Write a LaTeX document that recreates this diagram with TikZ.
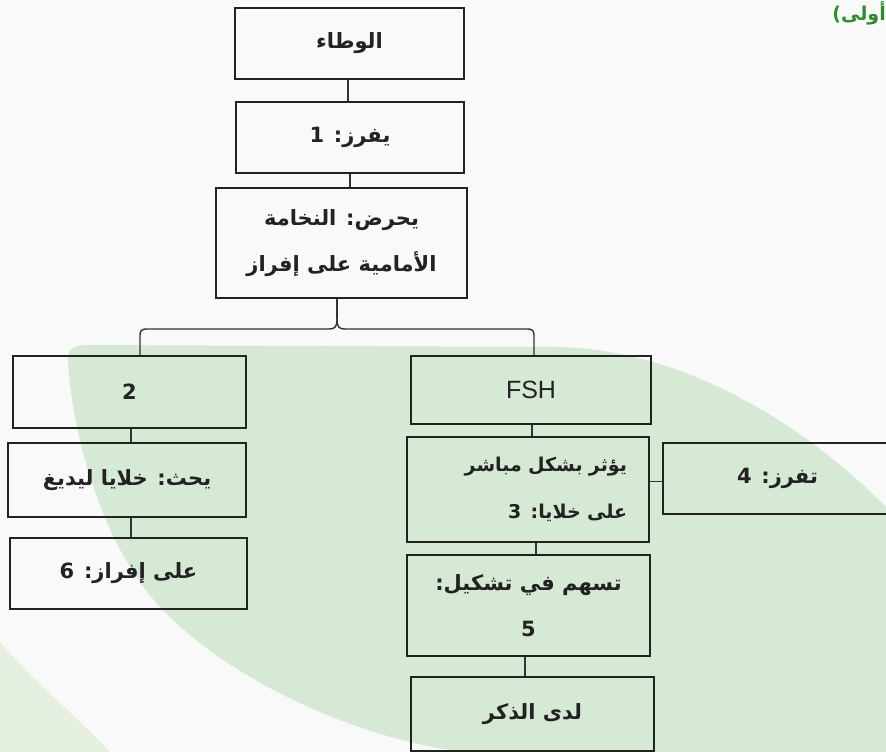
\documentclass[tikz,border=0pt]{standalone}
\usepackage{fontspec}
\TeXXeTstate=1
\newfontfamily\arabicfont[Script=Arabic]{DejaVu Sans}
\newfontfamily\latinfont{Liberation Sans}
\usetikzlibrary{calc}
\definecolor{bgc}{HTML}{F9F9F9}
\definecolor{leaf}{HTML}{D6E9D4}
\definecolor{leaflight}{HTML}{E4EFE0}
\definecolor{boxline}{HTML}{222222}
\definecolor{conn}{HTML}{333333}
\definecolor{titlegreen}{HTML}{2E8B2E}
\begin{document}
\begin{tikzpicture}[x=1pt,y=-1pt,
  box/.style={draw=boxline, line width=2pt, inner sep=0pt, align=center,
    font=\arabicfont\bfseries\fontsize{21}{46}\selectfont, text=boxline},
  link/.style={draw=conn, line width=1.4pt},
  thinlink/.style={draw=conn, line width=0.8pt}]
\fill[bgc] (0,0) rectangle (886,752);
\useasboundingbox (0,0) rectangle (886,752);
% background leaves
\fill[leaf] (68,362) .. controls (67,350) and (72,345) .. (88,345) -- (560,347)
  .. controls (680,350) and (800,420) .. (886,507) -- (886,752) -- (470,752)
  .. controls (380,745) and (240,690) .. (163,610)
  .. controls (100,545) and (72,430) .. (68,362) -- cycle;
\fill[leaflight] (0,642) .. controls (35,683) and (75,715) .. (110,752) -- (0,752) -- cycle;
% title fragment
\node[anchor=north east, inner sep=0pt, text=titlegreen,
  font=\arabicfont\bfseries\fontsize{19}{21}\selectfont] (ttl) at (886,1) {\beginR أولى)\endR};
% boxes
\node[box, minimum width=229pt, minimum height=71pt] (A) at (349.5,43.5) {\beginR الوطاء\endR};
\node[box, minimum width=228pt, minimum height=71pt] (B) at (350,137.5) {\beginR يفرز: 1\endR};
\node[box, minimum width=251pt, minimum height=110pt] (C) at (341.5,243)
  {\beginR يحرض: النخامة\endR\\\beginR الأمامية على إفراز\endR};
\node[box, minimum width=233pt, minimum height=72pt] (D) at (129.5,392) {2};
\node[box, minimum width=238pt, minimum height=74pt] (E) at (127,480) {\beginR يحث: خلايا ليديغ\endR};
\node[box, minimum width=237pt, minimum height=71pt] (F) at (128.5,573.5) {\beginR على إفراز: 6\endR};
\node[box, minimum width=240pt, minimum height=68pt, font=\latinfont\fontsize{25}{30}\selectfont] (G) at (531,390) {FSH};
\node[box, minimum width=242pt, minimum height=105pt, text width=198pt, align=right,
  font=\arabicfont\bfseries\fontsize{19}{47}\selectfont] (H) at (528,489.5)
  {\beginR يؤثر بشكل مباشر\endR\\\beginR على خلايا: 3\endR};
\node[box, minimum width=229pt, minimum height=71pt] (I) at (777.5,478.5) {\beginR تفرز: 4\endR};
\node[box, minimum width=243pt, minimum height=101pt] (J) at (528.5,605.5)
  {\beginR تسهم في تشكيل:\endR\\5};
\node[box, minimum width=243pt, minimum height=74pt] (K) at (532.5,714) {\beginR لدى الذكر\endR};
% connectors
\draw[link] ($(A.south)+(-1.5,0)$) -- ($(A.south |- B.north)+(-1.5,0)$);
\draw[link] (B.south) -- (B.south |- C.north);
\coordinate (tip) at ($(C.south)+(-4.5,20)$);
\coordinate (dl) at ($(D.north)+(10.5,0)$);
\coordinate (dr) at ($(G.north)+(3,0)$);
\draw[link] (C.south -| tip) -- (tip);
\draw[link] (tip) .. controls ($(tip)+(0,8)$) and ($(tip)+(-2,10)$) .. ($(tip)+(-8,10)$)
  -- ($(dl |- tip)+(8,10)$) .. controls ($(dl |- tip)+(1,10)$) and ($(dl |- tip)+(0,11)$) .. ($(dl |- tip)+(0,18)$) -- (dl);
\draw[link] (tip) .. controls ($(tip)+(0,8)$) and ($(tip)+(2,10)$) .. ($(tip)+(8,10)$)
  -- ($(dr |- tip)+(-8,10)$) .. controls ($(dr |- tip)+(-1,10)$) and ($(dr |- tip)+(0,11)$) .. ($(dr |- tip)+(0,18)$) -- (dr);
\draw[link] ($(D.south)+(1.5,0)$) -- ($(D.south |- E.north)+(1.5,0)$);
\draw[link] ($(E.south)+(4,0)$) -- ($(E.south |- F.north)+(4,0)$);
\draw[link] ($(G.south)+(1,0)$) -- ($(G.south |- H.north)+(1,0)$);
\draw[thinlink] ($(I.west)+(0,2.5)$) -- ($(H.east |- I.west)+(0,2.5)$);
\draw[link] ($(H.south)+(8,0)$) -- ($(H.south |- J.north)+(8,0)$);
\draw[link] ($(J.south)+(-3.5,0)$) -- ($(J.south |- K.north)+(-3.5,0)$);
\end{tikzpicture}
\end{document}
